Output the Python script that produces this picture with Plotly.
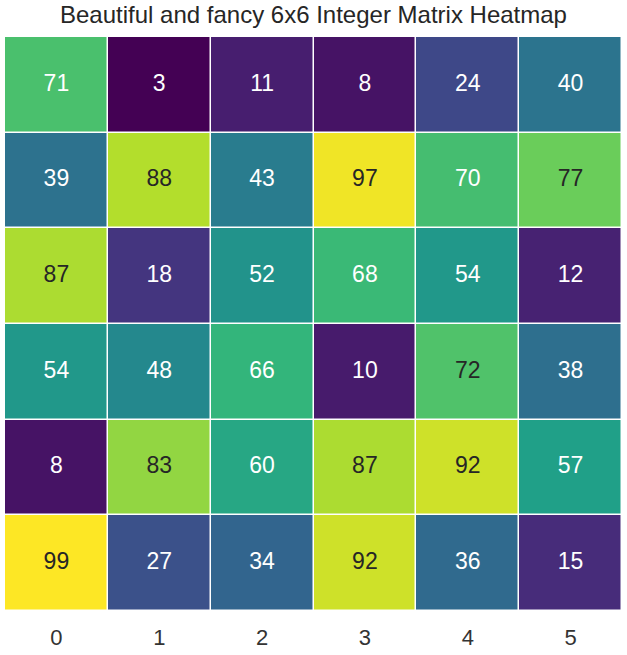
import plotly.graph_objects as go

title = "Beautiful and fancy 6x6 Integer Matrix Heatmap"
x_labels = ["0", "1", "2", "3", "4", "5"]
row0 = [71, 3, 11, 8, 24, 40]
row1 = [39, 88, 43, 97, 70, 77]
row2 = [87, 18, 52, 68, 54, 12]
row3 = [54, 48, 66, 10, 72, 38]
row4 = [8, 83, 60, 87, 92, 57]
row5 = [99, 27, 34, 92, 36, 15]
matrix = [row0, row1, row2, row3, row4, row5]

xs = list(range(6))
ys = list(range(6))
FONT = "Liberation Sans, Arial, sans-serif"

fig = go.Figure()
fig.add_trace(go.Heatmap(
    z=matrix, x=xs, y=ys, colorscale="Viridis",
    zmin=min(min(r) for r in matrix), zmax=max(max(r) for r in matrix),
    showscale=False, xgap=1.5, ygap=1.5, hoverinfo="skip",
))

tx, ty, tt, tc = [], [], [], []
for i, r in enumerate(matrix):
    for j, v in enumerate(r):
        tx.append(j); ty.append(i); tt.append(str(v))
        tc.append("#262626" if v >= 72 else "white")
fig.add_trace(go.Scatter(
    x=tx, y=ty, text=tt, mode="text",
    textfont=dict(family=FONT, size=23, color=tc),
    hoverinfo="skip", showlegend=False,
))

fig.update_layout(
    width=627, height=655,
    margin=dict(l=5, r=5, t=37, b=42),
    paper_bgcolor="white", plot_bgcolor="white",
    title=dict(text=title, x=0.5, xanchor="center", y=0.99, yanchor="top",
               font=dict(family=FONT, size=24, color="#262626")),
    xaxis=dict(tickmode="array", tickvals=xs, ticktext=x_labels, showgrid=False,
               zeroline=False, showline=False, range=[-0.5, 5.5], ticks="",
               ticklabelstandoff=11,
               tickfont=dict(family=FONT, size=22, color="#333333")),
    yaxis=dict(showticklabels=False, showgrid=False, zeroline=False, showline=False,
               range=[5.5, -0.5], ticks=""),
)
fig.write_html("out.html")
